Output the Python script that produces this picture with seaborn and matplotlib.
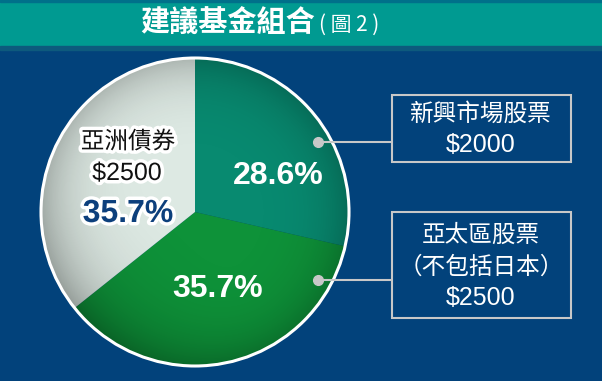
import matplotlib
matplotlib.use("Agg")
import matplotlib.pyplot as plt
import matplotlib.patheffects as pe
from matplotlib.patches import Rectangle, Circle
import numpy as np
import seaborn as sns

# ---- data ----
categories = ["新興市場股票", "亞太區股票", "亞洲債券"]
amounts = [2000, 2500, 2500]
pct_labels = ["28.6%", "35.7%", "35.7%"]
amount_labels = ["$2000", "$2500", "$2500"]
slice_colors = ["#088a70", "#0e9239", "#dde9e3"]

sns.set_theme(style="white")
plt.rcParams['font.family'] = ['Noto Sans CJK TC', 'DejaVu Sans']

W, H = 602, 381
fig = plt.figure(figsize=(W / 100, H / 100), dpi=100)
fig.patch.set_facecolor("#02427b")
ax = fig.add_axes([0, 0, 1, 1])
ax.set_facecolor("#02427b")

def Y(y):
    return H - y

cx, cy, r = 195, Y(212), 154

wedges, _ = ax.pie(amounts, colors=slice_colors, startangle=90, counterclock=False,
                   center=(cx, cy), radius=r, wedgeprops=dict(linewidth=0))

# subtle spherical shading (decoration)
n = 300
gx, gy = np.meshgrid(np.linspace(-1, 1, n), np.linspace(-1, 1, n))
d = np.sqrt(gx ** 2 + gy ** 2)
bl = np.clip((-gy - gx) / 2, 0, 1)
alpha = np.clip(0.22 * d ** 5 + 0.22 * bl ** 2, 0, 0.4)
shade = np.zeros((n, n, 4))
shade[..., 3] = alpha
clip_circle = Circle((cx, cy), r, transform=ax.transData)
im = ax.imshow(shade, extent=(cx - r, cx + r, cy - r, cy + r), origin="lower",
               zorder=3, interpolation="bilinear")
im.set_clip_path(clip_circle)
ax.add_patch(Circle((cx, cy), r, fill=False, edgecolor="white", linewidth=2.2, zorder=5))

# Title bar
ax.add_patch(Rectangle((0, Y(47)), W, 47, color="#009a91", zorder=1))
ax.add_patch(Rectangle((0, Y(50)), W, 4, color="#0d5a7d", zorder=1))
ax.add_patch(Rectangle((0, Y(1.5)), W, 1.5, color="#00708a", zorder=1))
ax.text(228, Y(23), "建議基金組合", color="white", fontsize=21, fontweight="bold",
        ha="center", va="center", zorder=6)
ax.text(319, Y(25), "( 圖 2 )", color="white", fontsize=15, ha="left", va="center", zorder=6)

# Percent labels in slices
cond = dict(family=['Liberation Sans', 'DejaVu Sans'], fontweight='bold')
ax.text(278, Y(176), pct_labels[0], color="white", fontsize=23,
        ha="center", va="center", zorder=6, **cond)
ax.text(218, Y(289), pct_labels[1], color="white", fontsize=23,
        ha="center", va="center", zorder=6, **cond)
glow = [pe.withStroke(linewidth=5, foreground="white")]
ax.text(128, Y(142), categories[2], color="#111111", fontsize=17, ha="center", va="center",
        zorder=6, path_effects=glow)
ax.text(127, Y(173), amount_labels[2], color="#111111", fontsize=18, ha="center", va="center",
        family=['Liberation Sans', 'DejaVu Sans'], zorder=6, path_effects=glow)
ax.text(128, Y(214), pct_labels[2], color="#0c3f7c", fontsize=23,
        ha="center", va="center", zorder=6, path_effects=glow, **cond)

# Connector lines and dots
for yy in (142, 280):
    ax.plot([318, 392], [Y(yy), Y(yy)], color="#c8c8c8", linewidth=1.5, zorder=6)
    ax.plot([318], [Y(yy)], marker="o", markersize=7, color="#c8c8c8", zorder=7)

# Boxes
ax.add_patch(Rectangle((392, Y(162)), 179, 67, fill=False, edgecolor="#c8c8c8", linewidth=1.5, zorder=6))
ax.add_patch(Rectangle((392, Y(318)), 179, 106, fill=False, edgecolor="#c8c8c8", linewidth=1.5, zorder=6))
ax.text(481, Y(114), categories[0], color="white", fontsize=17, ha="center", va="center", zorder=6)
ax.text(481, Y(145), amount_labels[0], color="white", fontsize=18, ha="center", va="center",
        family=['Liberation Sans', 'DejaVu Sans'], zorder=6)
ax.text(481, Y(235), categories[1], color="white", fontsize=17, ha="center", va="center", zorder=6)
ax.text(481, Y(267), "（不包括日本）", color="white", fontsize=17, ha="center", va="center", zorder=6)
ax.text(481, Y(298), amount_labels[1], color="white", fontsize=18, ha="center", va="center",
        family=['Liberation Sans', 'DejaVu Sans'], zorder=6)

ax.set_xlim(0, W)
ax.set_ylim(0, H)
ax.set_aspect("equal")
ax.axis("off")
fig.savefig("out.png", dpi=100, facecolor=fig.get_facecolor())
